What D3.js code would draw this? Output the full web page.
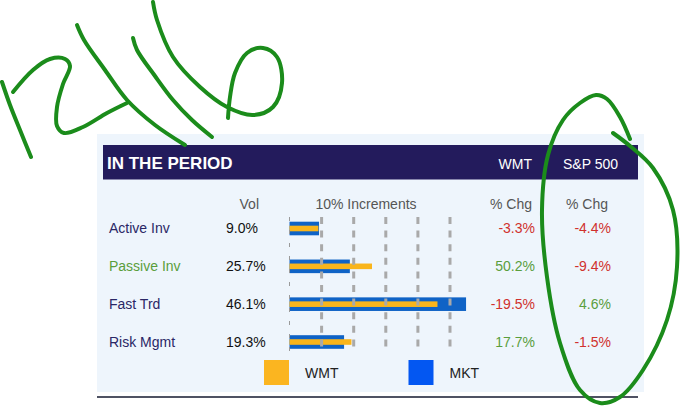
<!DOCTYPE html>
<html>
<head>
<meta charset="utf-8">
<script src="https://cdn.jsdelivr.net/npm/d3@7"></script>
<style>
  html, body { margin: 0; padding: 0; background: #ffffff; }
  svg { display: block; font-family: "Liberation Sans", Arial, Helvetica, sans-serif; }
</style>
</head>
<body>
<svg id="chart" width="680" height="408"></svg>
<script>
// ---- data ----
const categories = ["Active Inv", "Passive Inv", "Fast Trd", "Risk Mgmt"];
const wmtVol = [9.0, 25.7, 46.1, 19.3];     // yellow bars (WMT)
const mktVol = [9.2, 18.8, 55.0, 17.0];     // blue bars (MKT)
const wmtChg = [-3.3, 50.2, -19.5, 17.7];
const spChg = [-4.4, -9.4, 4.6, -1.5];
const gridTicks = [10, 20, 30, 40, 50];
const highlighted = ["Passive Inv"];
const title = "IN THE PERIOD";
const headerCols = ["WMT", "S&P 500"];
const legendItems = ["WMT", "MKT"];

// ---- styling ----
const C = {
  panel: "#eef5fc", header: "#231b5c", navy: "#2a2766", green: "#5a9e3c",
  red: "#d0312d", gray: "#555555", yellow: "#f9b51c", blue: "#0f63c6",
  legYellow: "#fbb520", legBlue: "#0357f2", grid: "#a9a9a9", annot: "#1b8c1b"
};

const svg = d3.select("#chart");

// panel + header
svg.append("rect").attr("x", 97).attr("y", 134).attr("width", 547).attr("height", 258).attr("fill", C.panel);
svg.append("rect").attr("x", 103).attr("y", 145).attr("width", 535).attr("height", 34.5).attr("fill", C.header);
svg.append("line").attr("x1", 97).attr("x2", 638).attr("y1", 397).attr("y2", 397)
  .attr("stroke", "#4f5263").attr("stroke-width", 2);

svg.append("text").attr("x", 107).attr("y", 169).attr("fill", "#fff")
  .attr("font-size", 17).attr("font-weight", "bold").text(title);
const colRight = [532, 618];
svg.selectAll("text.hcol").data(headerCols).join("text").attr("class", "hcol")
  .attr("x", (d, i) => colRight[i]).attr("y", 169).attr("text-anchor", "end")
  .attr("fill", "#fff").attr("font-size", 14).text(d => d);

// scales
const x = d3.scaleLinear().domain([0, 50]).range([289.5, 450]);
const y = d3.scalePoint().domain(categories).range([228.5, 342]);

// column headers
const sub = svg.append("g").attr("fill", C.gray).attr("font-size", 14);
sub.append("text").attr("x", 259).attr("y", 209).attr("text-anchor", "end").text("Vol");
sub.append("text").attr("x", 366).attr("y", 209).attr("text-anchor", "middle").text("10% Increments");
sub.append("text").attr("x", 532).attr("y", 209).attr("text-anchor", "end").text("% Chg");
sub.append("text").attr("x", 608).attr("y", 209).attr("text-anchor", "end").text("% Chg");

const rows = categories.map((c, i) => ({ c, wv: wmtVol[i], mv: mktVol[i], wc: wmtChg[i], sc: spChg[i] }));

// row labels
svg.selectAll("text.lab").data(rows).join("text").attr("class", "lab")
  .attr("x", 109).attr("y", d => y(d.c) + 4.8).attr("font-size", 14)
  .attr("fill", d => highlighted.includes(d.c) ? C.green : C.navy).text(d => d.c);
svg.selectAll("text.vol").data(rows).join("text").attr("class", "vol")
  .attr("x", 226).attr("y", d => y(d.c) + 4.8).attr("font-size", 14)
  .attr("fill", "#111").text(d => d.wv.toFixed(1) + "%");
const pct = v => v.toFixed(1) + "%";
svg.selectAll("text.wc").data(rows).join("text").attr("class", "wc")
  .attr("x", 535).attr("y", d => y(d.c) + 4.8).attr("text-anchor", "end").attr("font-size", 14)
  .attr("fill", d => d.wc < 0 ? C.red : C.green).text(d => pct(d.wc));
svg.selectAll("text.sc").data(rows).join("text").attr("class", "sc")
  .attr("x", 611).attr("y", d => y(d.c) + 4.8).attr("text-anchor", "end").attr("font-size", 14)
  .attr("fill", d => d.sc < 0 ? C.red : C.green).text(d => pct(d.sc));

// bars
svg.selectAll("rect.mkt").data(rows).join("rect").attr("class", "mkt")
  .attr("x", x(0)).attr("y", d => y(d.c) - 6.8).attr("height", 13.6)
  .attr("width", d => x(d.mv) - x(0)).attr("fill", C.blue);
svg.selectAll("rect.wmt").data(rows).join("rect").attr("class", "wmt")
  .attr("x", x(0)).attr("y", d => y(d.c) - 2.8).attr("height", 5.6)
  .attr("width", d => x(d.wv) - x(0)).attr("fill", C.yellow);

// gridlines (on top of bars)
svg.append("line").attr("x1", x(0)).attr("x2", x(0)).attr("y1", 217).attr("y2", 353)
  .attr("stroke", "#9a9a9a").attr("stroke-width", 1).attr("stroke-dasharray", "4,9");
svg.selectAll("line.grid").data(gridTicks).join("line").attr("class", "grid")
  .attr("x1", d => x(d)).attr("x2", d => x(d)).attr("y1", 217).attr("y2", 353)
  .attr("stroke", C.grid).attr("stroke-width", 3).attr("stroke-dasharray", "7,6.6");

// legend
const legColors = [C.legYellow, C.legBlue];
const legX = [264, 408.5];
const leg = svg.selectAll("g.leg").data(legendItems).join("g").attr("class", "leg")
  .attr("transform", (d, i) => `translate(${legX[i]},360)`);
leg.append("rect").attr("width", 25).attr("height", 25).attr("fill", (d, i) => legColors[i]);
leg.append("text").attr("x", 41).attr("y", 18).attr("font-size", 14).attr("fill", "#222").text(d => d);

// handwritten annotations
const strokes = [
  [[2,82],[10,105],[20,130],[31,157]],
  [[13,92],[33,70],[50,59],[65,59],[70,66],[63,84],[57,107],[57,126],[64,133],[83,127],[107,113],[127,103]],
  [[77,25],[84,40],[105,70],[127,100],[155,125],[185,145]],
  [[133,38],[137,50],[155,76],[173,100],[192,120],[212,137]],
  [[153,2],[157,20],[173,57],[200,87],[227,107],[253,115],[273,107],[282,83],[277,57],[263,48],[247,53],[235,73],[230,97],[228,118]],
  [[630,139],[620,117],[607,99],[596,95],[580,103],[563,120],[548,155],[542,210],[547,277],[560,343],[580,390],[600,403],[620,397],[643,370],[667,320],[677,267],[673,210],[653,168],[630,146],[613,133]]
];
const pen = d3.line().curve(d3.curveCatmullRom.alpha(0.5));
svg.append("g").attr("class", "annotation").selectAll("path").data(strokes).join("path")
  .attr("d", pen).attr("fill", "none").attr("stroke", C.annot)
  .attr("stroke-width", 4).attr("stroke-linecap", "round").attr("stroke-linejoin", "round");
</script>
</body>
</html>
